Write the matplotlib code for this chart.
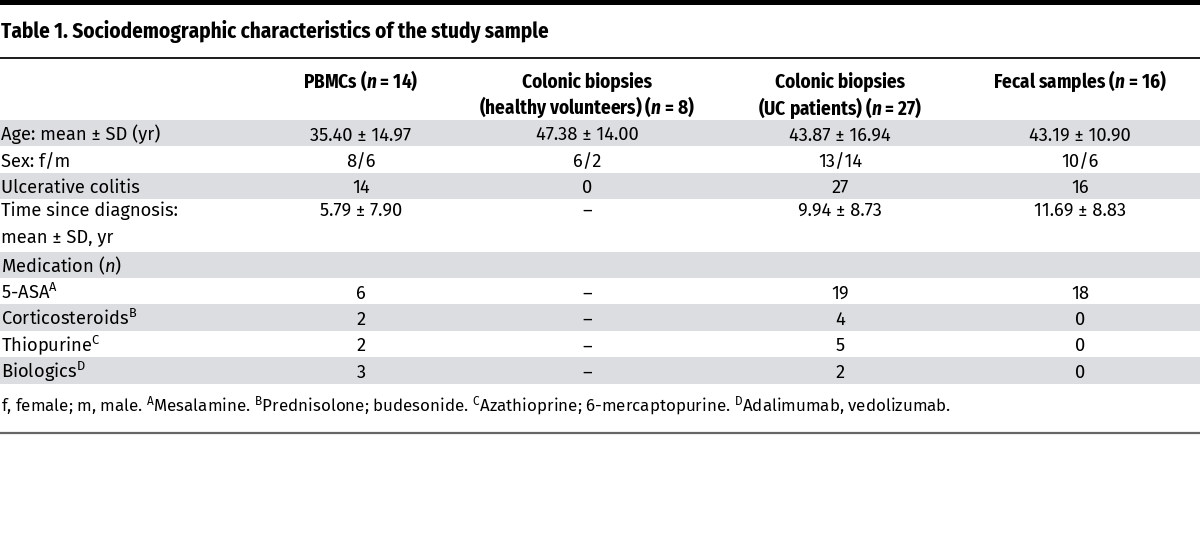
import matplotlib.pyplot as plt
from matplotlib.patches import Rectangle

LABEL_FONT = 'Fira Sans'
COND_FONT = 'Fira Sans Condensed'

plt.rcParams['mathtext.fontset'] = 'custom'
plt.rcParams['mathtext.rm'] = LABEL_FONT
plt.rcParams['mathtext.it'] = LABEL_FONT + ':italic'
plt.rcParams['mathtext.bf'] = LABEL_FONT + ':bold'
plt.rcParams['mathtext.bfit'] = COND_FONT + ':bold:italic'

# table content
title = "Table 1. Sociodemographic characteristics of the study sample"
headers = [
    ["PBMCs ($\\mathbfit{n}$ = 14)"],
    ["Colonic biopsies", "(healthy volunteers) ($\\mathbfit{n}$ = 8)"],
    ["Colonic biopsies", "(UC patients) ($\\mathbfit{n}$ = 27)"],
    ["Fecal samples ($\\mathbfit{n}$ = 16)"],
]
row_labels = [
    "Age: mean ± SD (yr)",
    "Sex: f/m",
    "Ulcerative colitis",
    "Time since diagnosis:\nmean ± SD, yr",
    "Medication ($n$)",
    "5-ASA$^{\\mathrm{A}}$",
    "Corticosteroids$^{\\mathrm{B}}$",
    "Thiopurine$^{\\mathrm{C}}$",
    "Biologics$^{\\mathrm{D}}$",
]
pbmc = ["35.40 ± 14.97", "8/6", "14", "5.79 ± 7.90", "", "6", "2", "2", "3"]
healthy = ["47.38 ± 14.00", "6/2", "0", "–", "", "–", "–", "–", "–"]
uc = ["43.87 ± 16.94", "13/14", "27", "9.94 ± 8.73", "", "19", "4", "5", "2"]
fecal = ["43.19 ± 10.90", "10/6", "16", "11.69 ± 8.83", "", "18", "0", "0", "0"]
footnote = ("f, female; m, male. $^{\\mathrm{A}}$Mesalamine. $^{\\mathrm{B}}$Prednisolone; budesonide. "
            "$^{\\mathrm{C}}$Azathioprine; 6-mercaptopurine. $^{\\mathrm{D}}$Adalimumab, vedolizumab.")

W, H = 1200, 537
fig = plt.figure(figsize=(12, 5.37), dpi=100)
ax = fig.add_axes([0, 0, 1, 1])
ax.set_xlim(0, W)
ax.set_ylim(H, 0)
ax.axis('off')

shade = '#dcdde0'
col_x = [361, 587, 840, 1080]
line_h = 26.35
fs = 13.2

# rules
ax.add_patch(Rectangle((0, 0), W, 5, color='black', lw=0))
ax.plot([0, W], [57.5, 57.5], color='#1a1a1a', lw=1.4)
ax.plot([0, W], [433, 433], color='#666666', lw=1.6)

ax.text(1, 38, title, fontsize=15.2, fontweight='bold', family=COND_FONT, va='baseline', ha='left')

for x, h in zip(col_x, headers):
    for k, line in enumerate(h):
        ax.text(x, 88 + 26.5 * k, line, fontsize=13.8, fontweight='bold', family=COND_FONT,
                ha='center', va='baseline')

cols = [pbmc, healthy, uc, fecal]
y = 120
for i, lab in enumerate(row_labels):
    lines = lab.split('\n')
    hgt = line_h * len(lines)
    if i % 2 == 0:
        ax.add_patch(Rectangle((0, y), W, hgt, color=shade, lw=0))
    base = y + 20.5 if len(lines) == 1 else y + 16.5
    for k, line in enumerate(lines):
        ax.text(1, base + 26.5 * k, line, fontsize=fs, family=LABEL_FONT, ha='left', va='baseline')
    for x, c in zip(col_x, cols):
        ax.text(x, base, c[i], fontsize=fs, family=LABEL_FONT, ha='center', va='baseline')
    y += hgt

ax.text(1, 411, footnote, fontsize=12.2, family=LABEL_FONT, ha='left', va='baseline')

fig.savefig('out.png', dpi=100, facecolor='white')
